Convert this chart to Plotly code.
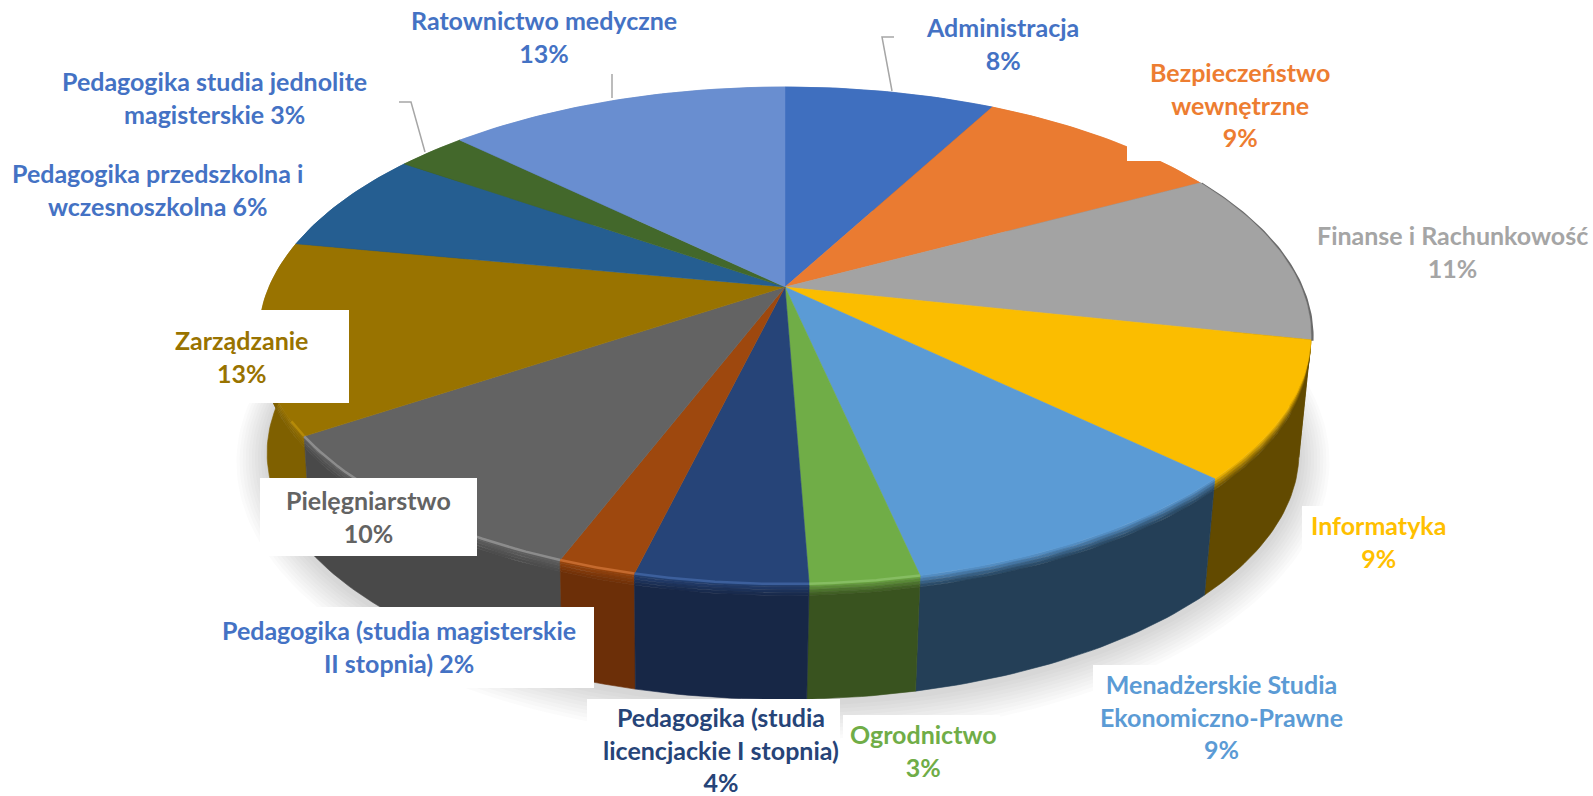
import math
import plotly.graph_objects as go

# ---------- data ----------
categories = ["Administracja", "Bezpieczeństwo wewnętrzne", "Finanse i Rachunkowość", "Informatyka",
              "Menadżerskie Studia Ekonomiczno-Prawne", "Ogrodnictwo", "Pedagogika (studia licencjackie I stopnia)",
              "Pedagogika (studia magisterskie II stopnia)", "Pielęgniarstwo", "Zarządzanie",
              "Pedagogika przedszkolna i wczesnoszkolna", "Pedagogika studia jednolite magisterskie",
              "Ratownictwo medyczne"]
# slice sizes (percent)
shares = [7.8, 9.3, 11.3, 8.8, 9.4, 2.8, 4.4, 2.0, 9.8, 12.4, 6.7, 2.6, 12.7]
# percent as printed on the labels
printed_pct = [8, 9, 11, 9, 9, 3, 4, 2, 10, 13, 6, 3, 13]

# ---------- styles ----------
top_colors = ["#3f6fbf", "#ea7b31", "#a3a3a3", "#fbbd00", "#5b9bd5", "#70ad47", "#264478",
              "#9e480e", "#636363", "#997300", "#255e91", "#43682b", "#698ed0"]
wall_colors = ["#2a4a80", "#8e4b1d", "#624a00", "#624a00", "#243f57", "#39531f", "#172746",
               "#6c2f08", "#494949", "#7f6000", "#16385a", "#283e1a", "#3f557d"]
rim_colors = [None, None, "#555555", None, None, "#86bd62", "#3c5f9c",
              "#c56a2e", "#8c8c8c", "#b58a08", None, None, None]
text_colors = ["#4472c4", "#ed7d31", "#a5a5a5", "#ffc000", "#5b9bd5", "#70ad47", "#264478",
               "#4472c4", "#636363", "#997300", "#4472c4", "#4472c4", "#4472c4"]
label_lines = ["Administracja<br>{}%", "Bezpieczeństwo<br>wewnętrzne<br>{}%", "Finanse i Rachunkowość<br>{}%",
               "Informatyka<br>{}%", "Menadżerskie Studia<br>Ekonomiczno-Prawne<br>{}%", "Ogrodnictwo<br>{}%",
               "Pedagogika (studia<br>licencjackie I stopnia)<br>{}%", "Pedagogika (studia magisterskie<br>II stopnia) {}%",
               "Pielęgniarstwo<br>{}%", "Zarządzanie<br>{}%", "Pedagogika przedszkolna i<br>wczesnoszkolna {}%",
               "Pedagogika studia jednolite<br>magisterskie {}%", "Ratownictwo medyczne<br>{}%"]
label_xy = [(1002, 43), (1240, 104), (1452, 251), (1378, 541), (1221, 716), (923, 750), (721, 749),
            (399, 646), (368, 516), (241, 356), (157, 189), (214, 97), (544, 36)]
# white boxes sitting behind some labels: x0, y0, x1, y1
label_boxes = [(150, 310, 349, 403), (260, 478, 477, 556), (200, 607, 594, 688), (587, 699, 840, 796),
               (843, 715, 1000, 796), (1093, 665, 1345, 775), (1302, 506, 1450, 590), (1127, 50, 1320, 161)]
leaders = [([612, 612], [74, 98]),
           ([894, 882, 892], [37, 37, 91]),
           ([399, 411, 425], [102, 102, 152])]

# ---------- geometry of the tilted disc ----------
CX, CY, A, B, K = 785.0, 287.0, 516.0, 239.0, 0.195
CX2, CY2, A2, B2 = 783.0, 405.0, 506.0, 237.0


def top_pt(t, r=1.0):
    X, Y = r * math.sin(t), -r * math.cos(t)
    w = 1 - K * Y
    return CX + A * X / w, CY + B * Y / w


def bot_pt(t, grow=0.0, dy=0.0):
    X, Y = math.sin(t), -math.cos(t)
    w = 1 - K * Y
    return CX2 + (A2 + grow) * X / w, CY2 + dy + (B2 + grow) * Y / w


def blend(c1, c2, f):
    a = [int(c1[i:i + 2], 16) for i in (1, 3, 5)]
    b = [int(c2[i:i + 2], 16) for i in (1, 3, 5)]
    return "#%02x%02x%02x" % tuple(round(a[i] + (b[i] - a[i]) * f) for i in range(3))


def poly(xs, ys, color):
    return go.Scatter(x=xs, y=ys, mode="lines", fill="toself", fillcolor=color, line=dict(width=0.6, color=color),
                      hoverinfo="skip", showlegend=False)


fig = go.Figure()

# soft shadow under the disc
ring = [2 * math.pi * i / 240 for i in range(241)]
for grow in range(30, 0, -3):
    pts = [bot_pt(t, grow=grow, dy=3) for t in ring]
    fig.add_trace(go.Scatter(x=[p[0] for p in pts], y=[p[1] for p in pts], mode="lines", fill="toself",
                             fillcolor="rgba(90,90,90,0.025)", line=dict(width=0), hoverinfo="skip", showlegend=False))

# slice boundaries
total = sum(shares)
edges = [0.0]
for s in shares:
    edges.append(edges[-1] + s / total * 2 * math.pi)
spans = [(i, edges[i], edges[i + 1]) for i in range(len(shares))]

# outer walls, back to front
FADE = [(0.0, 0.025, 0.15), (0.025, 0.05, 0.4), (0.05, 0.075, 0.65), (0.075, 0.1, 0.85), (0.1, 1.0, 1.0)]
for i, a0, a1 in sorted(spans, key=lambda s: math.cos((s[1] + s[2]) / 2), reverse=True):
    n = max(3, int((a1 - a0) * 60))
    ts = [a0 + (a1 - a0) * j / n for j in range(n + 1)]
    for f0, f1, mix in FADE:
        up = [(top_pt(t)[0] + (bot_pt(t)[0] - top_pt(t)[0]) * f0, top_pt(t)[1] + (bot_pt(t)[1] - top_pt(t)[1]) * f0) for t in ts]
        lo = [(top_pt(t)[0] + (bot_pt(t)[0] - top_pt(t)[0]) * f1, top_pt(t)[1] + (bot_pt(t)[1] - top_pt(t)[1]) * f1) for t in ts]
        pts = up + lo[::-1]
        fig.add_trace(poly([p[0] for p in pts] + [pts[0][0]], [p[1] for p in pts] + [pts[0][1]],
                           blend(top_colors[i], wall_colors[i], mix)))

# dark fringe behind the Finanse slice
i_fin = 2
ts = [edges[i_fin] + (edges[i_fin + 1] - edges[i_fin]) * j / 60 for j in range(61)]
fig.add_trace(go.Scatter(x=[top_pt(t)[0] + 1 for t in ts], y=[top_pt(t)[1] + 1 for t in ts], mode="lines",
                         line=dict(color="#6a6a6a", width=3), hoverinfo="skip", showlegend=False))

# top faces
for i, a0, a1 in spans:
    n = max(3, int((a1 - a0) * 60))
    ts = [a0 + (a1 - a0) * j / n for j in range(n + 1)]
    pts = [(CX, CY)] + [top_pt(t) for t in ts] + [(CX, CY)]
    fig.add_trace(go.Scatter(x=[p[0] for p in pts], y=[p[1] for p in pts], mode="lines", fill="toself",
                             fillcolor=top_colors[i], line=dict(width=0.5, color=top_colors[i]),
                             name=categories[i], text=f"{categories[i]}: {printed_pct[i]}%", hoverinfo="text",
                             showlegend=False))

# lighter rim on the front of the disc
for i, a0, a1 in spans:
    if rim_colors[i] is None or i == i_fin:
        continue
    a1_draw = min(a1, edges[10] - 0.72) if i == 9 else a1
    ts = [a0 + (a1_draw - a0) * j / 30 for j in range(31)]
    fig.add_trace(go.Scatter(x=[top_pt(t)[0] for t in ts], y=[top_pt(t)[1] for t in ts], mode="lines",
                             line=dict(color=rim_colors[i], width=2.5), hoverinfo="skip", showlegend=False))

# leader lines
for xs, ys in leaders:
    fig.add_trace(go.Scatter(x=xs, y=ys, mode="lines", line=dict(color="#a6a6a6", width=1.5),
                             hoverinfo="skip", showlegend=False))

shapes = [dict(type="rect", xref="x", yref="y", x0=b[0], y0=b[1], x1=b[2], y1=b[3], layer="above",
               fillcolor="white", line=dict(width=0)) for b in label_boxes]

annotations = [dict(x=x, y=y, xref="x", yref="y", text=lbl.format(p), showarrow=False, align="center",
                    xanchor="center", yanchor="middle",
                    font=dict(family="Lato, 'Liberation Sans', sans-serif", size=25, color=c, weight=700))
               for lbl, p, (x, y), c in zip(label_lines, printed_pct, label_xy, text_colors)]

fig.update_layout(width=1593, height=796, margin=dict(l=0, r=0, t=0, b=0), paper_bgcolor="white",
                  plot_bgcolor="white", showlegend=False, shapes=shapes, annotations=annotations,
                  xaxis=dict(range=[0, 1593], visible=False, fixedrange=True),
                  yaxis=dict(range=[796, 0], visible=False, fixedrange=True))

fig.write_html("out.html", config={"displayModeBar": False},
               post_script="document.body.style.margin='0';document.documentElement.style.overflow='hidden';")
